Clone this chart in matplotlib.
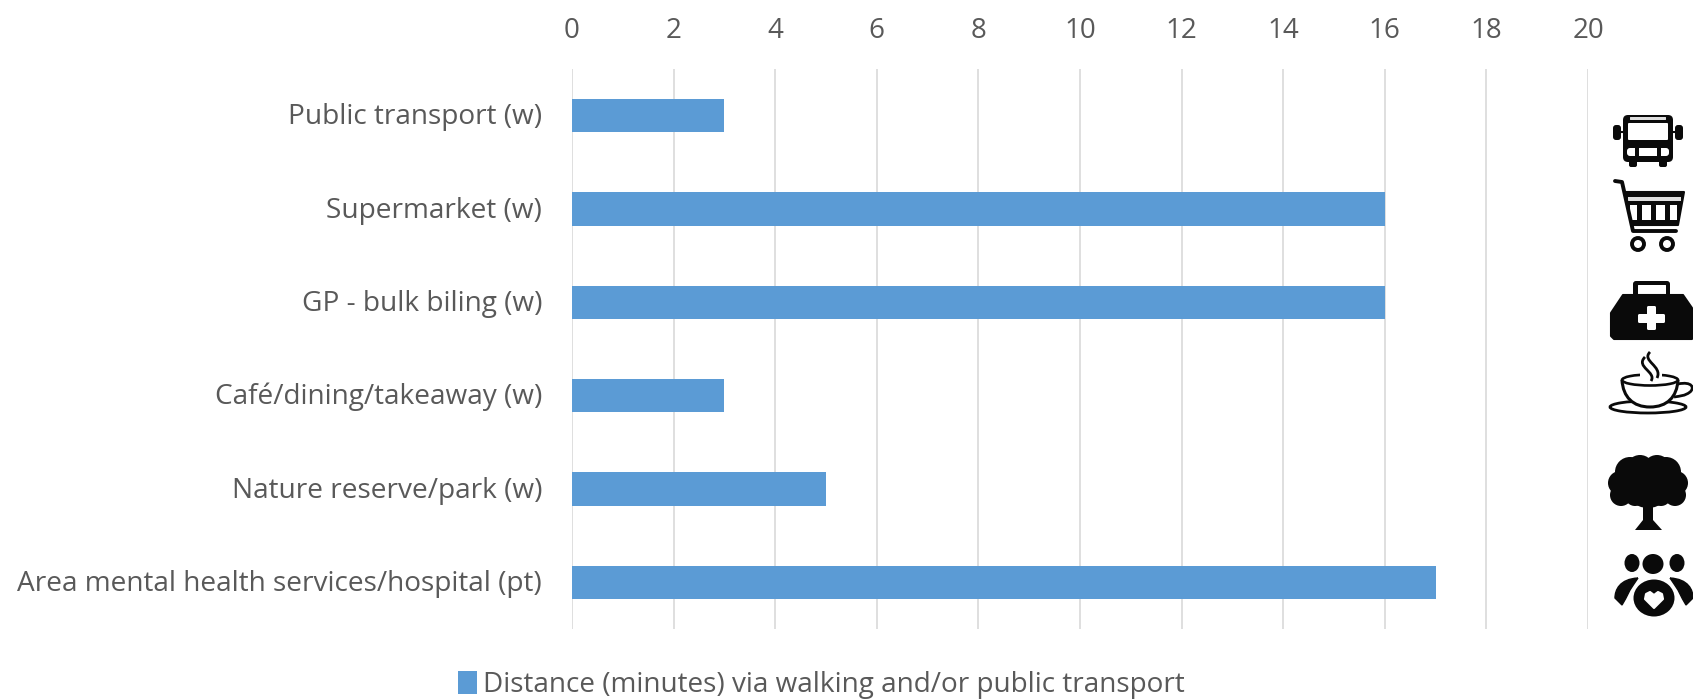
import matplotlib
matplotlib.use("Agg")
import matplotlib.pyplot as plt
from matplotlib.patches import Circle, Ellipse, FancyBboxPatch, Polygon, Rectangle, PathPatch
from matplotlib.path import Path
from matplotlib.transforms import ScaledTranslation

categories = ["Public transport (w)", "Supermarket (w)", "GP - bulk biling (w)",
              "Café/dining/takeaway (w)", "Nature reserve/park (w)",
              "Area mental health services/hospital (pt)"]
minutes = [3, 16, 16, 3, 5, 17]
xticks = [0, 2, 4, 6, 8, 10, 12, 14, 16, 18, 20]
series_name = "Distance (minutes) via walking and/or public transport"

W, H = 1693, 699
TXT = "#595959"
BLUE = "#5B9BD5"
plt.rcParams["font.family"] = ["Open Sans", "DejaVu Sans"]

fig = plt.figure(figsize=(W / 100, H / 100), dpi=100, facecolor="white")
ax = fig.add_axes([572 / W, 1 - 629 / H, (1588 - 572) / W, (629 - 69) / H])
ax.barh(range(6), minutes, height=0.354, color=BLUE, zorder=3, label=series_name)
ax.set_ylim(5.5, -0.5)
ax.set_xlim(0, 20)
ax.set_xticks(xticks)
ax.set_yticks(range(6), categories)
ax.xaxis.tick_top()
ax.grid(axis="x", color="#DCDCDC", lw=1.3, zorder=0)
for s in ax.spines.values():
    s.set_visible(False)
ax.tick_params(axis="x", length=0, labelsize=20, labelcolor=TXT, pad=17)
ax.tick_params(axis="y", length=0, labelsize=20.2, labelcolor=TXT, pad=21.5)
for t in ax.get_yticklabels():
    t.set_transform(t.get_transform() + ScaledTranslation(0, 2 / 100, fig.dpi_scale_trans))

leg = fig.legend(loc="center left", bbox_to_anchor=(458 / W, 1 - 685 / H), frameon=False,
                 fontsize=20.1, labelcolor=TXT, handlelength=0.68, handleheight=0.9,
                 handletextpad=0.22, borderpad=0, borderaxespad=0)

# Icons, drawn in image pixel coordinates
ic = fig.add_axes([0, 0, 1, 1], facecolor="none", zorder=5)
ic.set_xlim(0, W)
ic.set_ylim(H, 0)
ic.axis("off")
K = "#0A0A0A"
C4 = [Path.MOVETO, Path.CURVE4, Path.CURVE4, Path.CURVE4]

def rr(x0, y0, x1, y1, r, **kw):
    kw.setdefault("fc", K)
    kw.setdefault("ec", "none")
    ic.add_patch(FancyBboxPatch((x0 + r, y0 + r), x1 - x0 - 2 * r, y1 - y0 - 2 * r,
                                boxstyle=f"round,pad={r}", **kw))

def line(pts, lw=2.6, color=K):
    xs, ys = zip(*pts)
    ic.plot(xs, ys, color=color, lw=lw, solid_capstyle="round", solid_joinstyle="round")

def curve(verts, codes, lw=2.0, fc="none", ec=K):
    ic.add_patch(PathPatch(Path(verts, codes), fc=fc, ec=ec, lw=lw))

def blob(pts, fc=K):
    ic.add_patch(Polygon(pts, fc=fc, ec=fc, lw=1.5, joinstyle="round"))

# bus
rr(1623, 115, 1673, 162, 5)
rr(1630, 117, 1666, 120, 0.5, fc="#DDDDDD")
rr(1628, 123, 1668, 140, 1, fc="white")
rr(1627, 148, 1669, 156, 3, fc="white")
rr(1635, 147, 1639, 157, 0.5)
rr(1657, 147, 1661, 157, 0.5)
rr(1629, 159, 1637, 167, 2)
rr(1659, 159, 1667, 167, 2)
rr(1613, 125, 1621, 140, 3)
rr(1675, 125, 1683, 140, 3)
line([(1621, 132), (1624, 132)], 1.5)
line([(1672, 132), (1675, 132)], 1.5)

# cart
line([(1615, 181), (1622, 182), (1633, 231), (1676, 231)], 2.8)
blob([(1625, 192), (1684, 192), (1678, 225), (1632, 225)])
ic.add_patch(Rectangle((1628, 197), 53, 4, fc="#DDDDDD", ec="none"))
for x0, x1 in [(1630, 1637), (1642, 1651), (1656, 1665), (1670, 1677)]:
    ic.add_patch(Rectangle((x0, 205), x1 - x0, 15, fc="white", ec="none"))
ic.add_patch(Circle((1638, 244), 6, fc="white", ec=K, lw=2.8))
ic.add_patch(Circle((1667, 244), 6, fc="white", ec=K, lw=2.8))

# medical bag
rr(1633, 281, 1670, 300, 3)
rr(1638, 285, 1666, 300, 0.5, fc="white")
blob([(1611, 313), (1623, 295), (1683, 295), (1692, 308), (1692, 339), (1614, 339), (1611, 336)])
rr(1638, 314, 1665, 323, 1.5, fc="white")
rr(1647, 306, 1656, 330, 1.5, fc="white")

# cup
ic.add_patch(Ellipse((1648, 407), 76, 12, fc="white", ec=K, lw=2.0))
curve([(1622, 380), (1623, 397), (1633, 407), (1650, 407), (1667, 407), (1677, 397), (1678, 380)],
      [Path.MOVETO] + [Path.CURVE4] * 6, 2.2, fc="white")
ic.add_patch(Ellipse((1650, 380), 56, 11, fc="white", ec=K, lw=1.9))
curve([(1678, 384), (1692, 381), (1695, 388), (1690, 392), (1685, 396), (1680, 396), (1674, 397)],
      [Path.MOVETO] + [Path.CURVE4] * 6, 2.0)
ic.add_patch(Rectangle((1640, 371), 22, 8, fc="white", ec="none"))
curve([(1645, 357), (1635, 367), (1657, 372), (1651, 381)], C4, 2.0)
curve([(1650, 352), (1641, 361), (1663, 366), (1657, 378)], C4, 2.0)

# tree
for cx, cy, r in [(1630, 472, 15), (1666, 472, 15), (1640, 469, 14), (1657, 469, 14),
                  (1620, 483, 12), (1676, 483, 12), (1621, 495, 11), (1675, 495, 11),
                  (1648, 484, 24), (1635, 496, 10), (1661, 496, 10)]:
    ic.add_patch(Circle((cx, cy), r, fc=K, ec="none"))
ic.add_patch(Polygon([(1643, 500), (1653, 500), (1653, 520), (1662, 530), (1635, 530), (1643, 520)],
                     fc=K, ec="none"))

# people
ic.add_patch(Ellipse((1632, 563), 15, 18, fc=K))
ic.add_patch(Ellipse((1677, 563), 15, 18, fc=K))
ic.add_patch(Ellipse((1653, 564), 24, 23, fc="white", ec="none"))
ic.add_patch(Ellipse((1653, 564), 21, 20, fc=K))
for a, b, c, d in [((1638, 578), (1615, 598), (1622, 605), (1630, 590)),
                   ((1670, 578), (1693, 598), (1686, 605), (1678, 590))]:
    curve([a, (a[0] + (b[0] - a[0]) * 0.8, a[1] + 1), (b[0], b[1] - 8), b,
           c, (c[0] + (d[0] - c[0]) * 0.4, c[1] - 5), d,
           (d[0] + (a[0] - d[0]) * 0.4, d[1] - 5), a],
          [Path.MOVETO, Path.CURVE4, Path.CURVE4, Path.CURVE4, Path.LINETO,
           Path.CURVE3, Path.CURVE3, Path.CURVE3, Path.CURVE3], 1.0, fc=K)
ic.add_patch(Ellipse((1654, 598), 41, 37, fc=K))
blob([(1646, 594), (1650, 592), (1654, 595), (1658, 592), (1662, 594), (1663, 599), (1654, 608), (1645, 599)],
     fc="white")

fig.savefig("out.png", dpi=100)
